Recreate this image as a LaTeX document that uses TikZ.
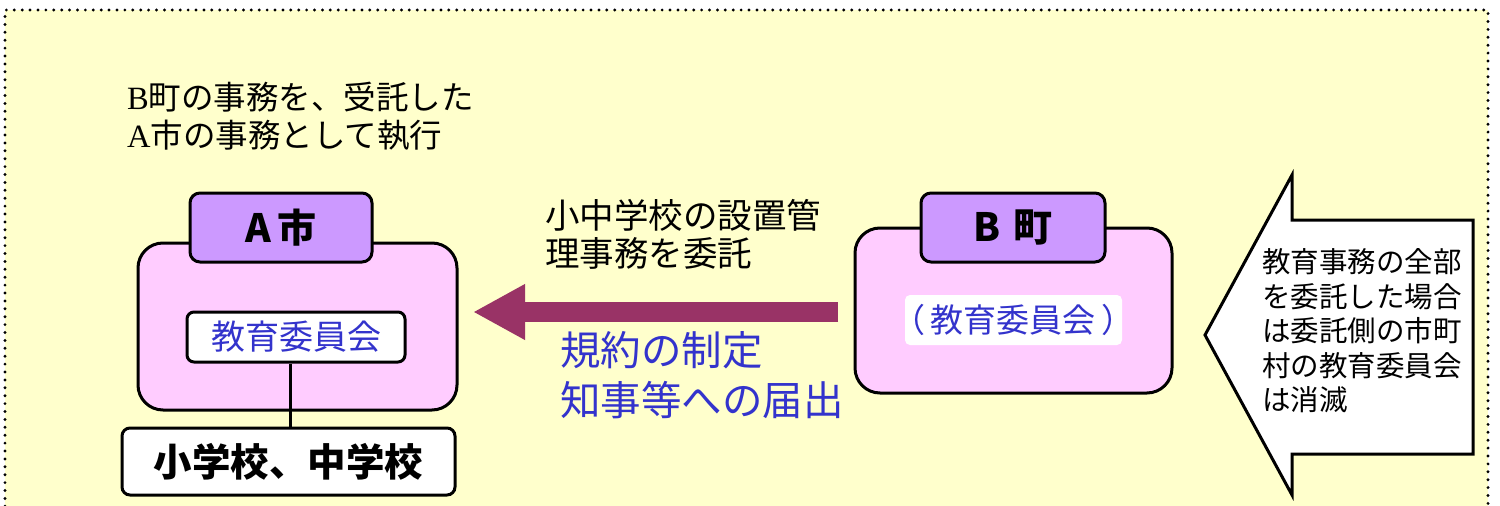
\documentclass[tikz,border=0pt]{standalone}
\usepackage{fontspec}
\setmainfont{Noto Sans CJK JP}
\newfontfamily\latserif{Liberation Serif}
\usetikzlibrary{arrows.meta}
\definecolor{bgy}{HTML}{FFFFCC}
\definecolor{hdr}{HTML}{CC99FF}
\definecolor{pnk}{HTML}{FFCCFF}
\definecolor{blu}{HTML}{3333CC}
\definecolor{arr}{HTML}{993366}
\begin{document}
\begin{tikzpicture}[x=1pt,y=-1pt,
  mainbox/.style={draw=black,line width=3pt,fill=pnk,rounded corners=25pt,inner sep=0pt},
  hdrbox/.style={draw=black,line width=3pt,fill=hdr,rounded corners=10pt,inner sep=0pt,font=\fontsize{39}{40}\selectfont\bfseries},
  ekbox/.style={draw=black,line width=3pt,fill=white,rounded corners=7pt,inner sep=0pt,text=blu,font=\fontsize{34}{36}\selectfont},
  txt/.style={inner sep=0pt,align=left},
]
\useasboundingbox (0,0) rectangle (1500,506);
\begin{scope}
\clip (0,0) rectangle (1500,506);
\fill[bgy] (5,10) rectangle (1488,530);
\draw[line width=3.2pt,line cap=round,dash pattern=on 0pt off 7.9pt] (5,530) -- (5,10) -- (1488,10) -- (1488,530);
\end{scope}

% top-left text
\node[txt,anchor=west,font=\fontsize{32.5}{38}\selectfont] (note) at (127,116)
  {{\latserif B}町の事務を、受託した\\{\latserif A}市の事務として執行};

% A city
\node[mainbox,minimum width=319pt,minimum height=167pt] (amain) at (297.5,326.5) {};
\node[hdrbox,minimum width=182pt,minimum height=69pt] (ahdr) at (281,227.5) {A\,市};
\node[ekbox,minimum width=218pt,minimum height=50pt] (aek) at (296,337) {教育委員会};
\node[draw=black,line width=3pt,fill=white,rounded corners=8pt,inner sep=0pt,
  minimum width=333pt,minimum height=67pt,font=\fontsize{38.5}{40}\selectfont\bfseries] (school) at (288.5,461.5) {小学校、中学校};
\draw[line width=3pt] ([xshift=-6pt]aek.south) -- ([xshift=-6pt]aek.south |- school.north);

% B town
\node[mainbox,minimum width=317pt,minimum height=165pt] (bmain) at (1013.5,310.5) {};
\node[hdrbox,minimum width=184pt,minimum height=69pt] (bhdr) at (1013,227.5) {B\,\,町};
\node[fill=white,rounded corners=5pt,inner sep=0pt,minimum width=217pt,minimum height=50pt] (bek) at (1013.5,320) {};
\node[inner sep=0pt,text=blu,font=\fontsize{33}{36}\selectfont] (bektxt) at (bek.center) {（\kern6pt 教育委員会\kern6pt ）};

% main arrow
\coordinate (astart) at (838,312);
\coordinate (aend) at (473,312);
\draw[arr,line width=20pt,-{Triangle[length=52pt,width=52pt]}] (astart) -- (aend);

\node[txt,anchor=west,font=\fontsize{34.5}{38}\selectfont] (deleg) at (545,234)
  {小中学校の設置管\\理事務を委託};
\node[txt,anchor=west,text=blu,font=\fontsize{40.5}{50}\selectfont] (rules) at (560,375)
  {規約の制定\\知事等への届出};

% big white arrow
\draw[line width=3pt,fill=white,line join=miter] (1205,335) -- (1292,175) -- (1292,220) -- (1473,220)
  -- (1473,454) -- (1292,454) -- (1292,495) -- cycle;
\node[txt,anchor=west,font=\fontsize{28.5}{34.5}\selectfont] (abol) at (1262,331)
  {教育事務の全部\\を委託した場合\\は委託側の市町\\村の教育委員会\\は消滅};
\end{tikzpicture}
\end{document}
